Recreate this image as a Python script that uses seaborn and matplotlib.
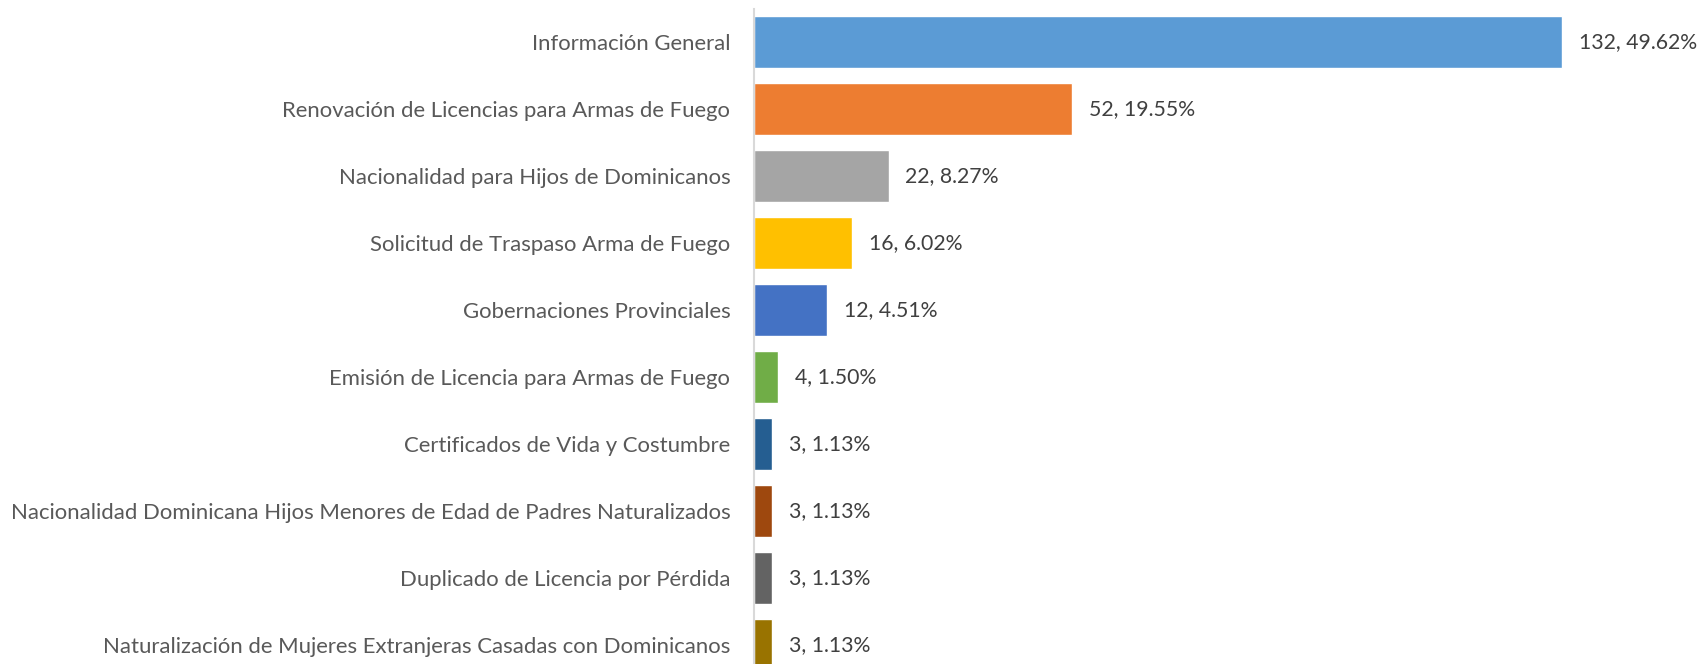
import matplotlib
matplotlib.use("Agg")
import matplotlib.pyplot as plt
import seaborn as sns
import pandas as pd

categories = [
    "Información General",
    "Renovación de Licencias para Armas de Fuego",
    "Nacionalidad para Hijos de Dominicanos",
    "Solicitud de Traspaso Arma de Fuego",
    "Gobernaciones Provinciales",
    "Emisión de Licencia para Armas de Fuego",
    "Certificados de Vida y Costumbre",
    "Nacionalidad Dominicana Hijos Menores de Edad de Padres Naturalizados",
    "Duplicado de Licencia por Pérdida",
    "Naturalización de Mujeres Extranjeras Casadas con Dominicanos",
]
values = [132, 52, 22, 16, 12, 4, 3, 3, 3, 3]
percents = [49.62, 19.55, 8.27, 6.02, 4.51, 1.50, 1.13, 1.13, 1.13, 1.13]
colors = ["#5B9BD5", "#ED7D31", "#A5A5A5", "#FFC000", "#4472C4",
          "#70AD47", "#255E91", "#9E480E", "#636363", "#997300"]

df = pd.DataFrame({"cat": categories, "val": values})

sns.set_theme(style="white")
plt.rcParams["font.family"] = ["Lato", "DejaVu Sans"]

W, H = 1702, 664
fig = plt.figure(figsize=(W / 100, H / 100), dpi=100)
left = 754 / W
top_px, bot_px = 8.5, 678.5
ax = fig.add_axes([left, 1 - bot_px / H, 1 - left, (bot_px - top_px) / H])

sns.barplot(data=df, y="cat", x="val", hue="cat", palette=colors,
            order=categories, hue_order=categories, orient="h",
            width=0.776, legend=False, ax=ax, saturation=1)

ax.set_xlim(0, (W - 754) / 6.12)
ax.set_ylim(9.5, -0.5)
ax.set_xlabel("")
ax.set_ylabel("")
ax.set_xticks([])
for s in ["top", "right", "bottom"]:
    ax.spines[s].set_visible(False)
ax.spines["left"].set_color("#D9D9D9")
ax.spines["left"].set_linewidth(1.5)
ax.tick_params(axis="y", length=0, pad=17, labelsize=15.9, labelcolor="#595959")

for i, (v, p) in enumerate(zip(values, percents)):
    ax.annotate(f"{v}, {p:.2f}%", xy=(v, i), xytext=(12, 0),
                textcoords="offset points", va="center", ha="left",
                fontsize=15.3, color="#404040")

fig.savefig("out.png", dpi=100)
